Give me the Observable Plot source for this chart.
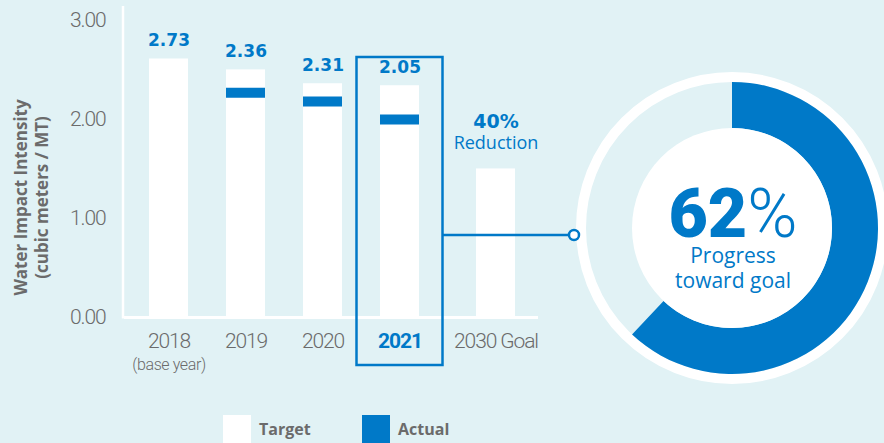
<!DOCTYPE html>
<html><head><meta charset="utf-8">
<script src="https://cdn.jsdelivr.net/npm/d3@7"></script>
<script src="https://cdn.jsdelivr.net/npm/@observablehq/plot@0.6"></script>
<style>
html,body{margin:0;padding:0;background:#e1f2f5;overflow:hidden}
#chart{position:relative;width:884px;height:443px}
#legend{position:relative;height:28px;margin-top:10px;font-family:"Open Sans",sans-serif;font-weight:700;font-size:16px;color:#6b6b6b}
.item{position:absolute;top:0;display:flex;align-items:center;height:28px}
.sw{width:28px;height:28px;margin-right:8px}
</style></head><body><div id="chart"></div><script>
// ---- data ----
const categories = ["2018", "2019", "2020", "2021", "2030 Goal"];
const targetValues = [2.61, 2.50, 2.36, 2.34, 1.50];
const actualCategories = ["2019", "2020", "2021"];
const actualValues = [2.27, 2.18, 2.00];
const valueLabelCategories = ["2018", "2019", "2020", "2021"];
const valueLabels = ["2.73", "2.36", "2.31", "2.05"];
const yTicks = [0, 1, 2, 3];
const highlightCategory = "2021";
const baseYearCategory = "2018";
const baseYearNote = "(base year)";
const goalCategory = "2030 Goal";
const goalLabels = ["40%", "Reduction"];
const progressPercent = 62;
const progressCaption = ["Progress", "toward goal"];
const yTitle = ["Water Impact Intensity", "(cubic meters / MT)"];
const legendLabels = ["Target", "Actual"];

// ---- style ----
const BLUE = "#0079c8";
const GRAY = "#6b6b6b";
const NARROW = "Roboto, sans-serif";
const HUM = "'Open Sans', sans-serif";
const WIDE = "'DejaVu Sans', sans-serif";
const GOAL_SHIFT = 19; // extra gap before the goal column

const targets = categories.map((c, i) => ({cat: c, value: targetValues[i]}));
const actuals = actualCategories.map((c, i) => ({cat: c, value: actualValues[i]}));
const valueLabelData = valueLabelCategories.map((c, i) => ({cat: c, value: targetValues[categories.indexOf(c)], label: valueLabels[i]}));
const goalValue = targetValues[categories.indexOf(goalCategory)];

const plot = Plot.plot({
  width: 884, height: 405,
  marginLeft: 124, marginRight: 346, marginTop: 6, marginBottom: 88,
  style: {background: "transparent", fontFamily: HUM, fontSize: "16px", color: GRAY, overflow: "visible"},
  x: {type: "band", domain: categories, range: [124, 521], paddingInner: 0.5, paddingOuter: 0.3, axis: null},
  y: {domain: [0, 3.14], axis: null},
  marks: [
    Plot.barY(targets.filter(d => d.cat !== goalCategory), {x: "cat", y: "value", fill: "white"}),
    Plot.barY(targets.filter(d => d.cat === goalCategory), {x: "cat", y: "value", fill: "white", dx: GOAL_SHIFT}),
    Plot.tickY(actuals, {x: "cat", y: "value", stroke: BLUE, strokeWidth: 10}),
    Plot.ruleY([0], {stroke: "white", strokeWidth: 3}),
    Plot.text(yTicks, {y: d => d, text: d => d3.format(".2f")(d), frameAnchor: "left", dx: -19, textAnchor: "end", lineAnchor: "middle", fontSize: 21, fontWeight: 300, fontFamily: NARROW, fill: GRAY}),
    Plot.text(valueLabelData, {x: "cat", y: "value", text: "label", dy: -13, lineAnchor: "bottom", fontSize: 17, fontWeight: "bold", fontFamily: WIDE, fill: BLUE}),
    Plot.text(categories.filter(c => c !== highlightCategory && c !== goalCategory), {x: d => d, text: d => d, frameAnchor: "bottom", dy: 30, lineAnchor: "bottom", fontSize: 21, fontWeight: 300, fontFamily: NARROW, fill: GRAY}),
    Plot.text([goalCategory], {x: d => d, text: d => d, frameAnchor: "bottom", dx: GOAL_SHIFT, dy: 30, lineAnchor: "bottom", fontSize: 21, fontWeight: 300, fontFamily: NARROW, fill: GRAY}),
    Plot.text([highlightCategory], {x: d => d, text: d => d, frameAnchor: "bottom", dy: 30, lineAnchor: "bottom", fontSize: 21, fontWeight: "bold", fontFamily: NARROW, fill: BLUE}),
    Plot.text([baseYearCategory], {x: d => d, text: () => baseYearNote, frameAnchor: "bottom", dy: 52, lineAnchor: "bottom", fontSize: 16, fontWeight: 300, fontFamily: NARROW, fill: GRAY}),
    Plot.text([goalCategory], {x: d => d, y: () => goalValue, text: () => goalLabels[0], dx: GOAL_SHIFT, dy: -41, lineAnchor: "bottom", fontSize: 19, fontWeight: "bold", fontFamily: WIDE, fill: BLUE}),
    Plot.text([goalCategory], {x: d => d, y: () => goalValue, text: () => goalLabels[1], dx: GOAL_SHIFT, dy: -20, lineAnchor: "bottom", fontSize: 18, fontFamily: HUM, fill: BLUE}),
    Plot.text([yTitle.join("\n")], {frameAnchor: "left", rotate: -90, dx: -93.5, dy: 35.5, textAnchor: "middle", lineAnchor: "middle", lineHeight: 1.25, fontSize: 17, fontWeight: "bold", fontFamily: HUM, fill: GRAY})
  ]
});

const svg = d3.select(plot);
// condensed look for the DIN-like labels
svg.selectAll("g").filter(function() { return this.getAttribute("font-family") === NARROW; })
  .style("letter-spacing", "-1.1px");
svg.selectAll("text").filter(function() { return this.textContent === baseYearNote; })
  .style("letter-spacing", "-0.4px");

const xs = plot.scale("x"), ys = plot.scale("y");
const x0 = 124;
// y axis line
svg.append("line").attr("x1", x0 - 1).attr("x2", x0 - 1).attr("y1", ys.apply(3.14)).attr("y2", ys.apply(0) + 1.5)
  .attr("stroke", "white").attr("stroke-width", 2.5);

// donut
const cx = 732, cy = 228, rIn = 100, rOut = 146, ringR = 151;
const g = svg.append("g").attr("transform", `translate(${cx},${cy})`);
g.append("circle").attr("r", ringR).attr("fill", "none").attr("stroke", "white").attr("stroke-width", 10);
g.append("path").attr("d", d3.arc()({innerRadius: rIn, outerRadius: rOut, startAngle: 0, endAngle: 2 * Math.PI * progressPercent / 100})).attr("fill", BLUE);
g.append("circle").attr("r", rIn).attr("fill", "white");
const big = g.append("text").attr("x", 1).attr("y", 9).attr("text-anchor", "middle").attr("fill", BLUE)
  .attr("font-family", "Roboto, sans-serif").attr("font-size", 68);
big.append("tspan").attr("font-weight", 900).text(String(progressPercent));
big.append("tspan").attr("font-weight", 300).text("%");
progressCaption.forEach((t, i) => {
  g.append("text").attr("x", 1).attr("y", 35 + i * 25).attr("text-anchor", "middle").attr("fill", BLUE)
    .attr("font-family", HUM).attr("font-size", 21).text(t);
});

// highlight box + connector
const bx = xs.apply(highlightCategory), bw = xs.bandwidth, pad = 23.5;
svg.append("rect").attr("x", bx - pad).attr("y", 57).attr("width", bw + 2 * pad).attr("height", 308)
  .attr("fill", "none").attr("stroke", BLUE).attr("stroke-width", 2.5);
const connY = 235, dotX = cx - ringR - 7;
svg.append("line").attr("x1", bx + bw + pad).attr("x2", dotX).attr("y1", connY).attr("y2", connY)
  .attr("stroke", BLUE).attr("stroke-width", 2.5);
svg.append("circle").attr("cx", dotX).attr("cy", connY).attr("r", 5).attr("fill", "white").attr("stroke", BLUE).attr("stroke-width", 2.5);

const chart = document.getElementById("chart");
chart.appendChild(plot);

// legend
const legend = document.createElement("div");
legend.id = "legend";
const legendColors = ["white", BLUE];
const legendLeft = [223, 362];
legendLabels.forEach((t, i) => {
  const it = document.createElement("div");
  it.className = "item";
  it.style.left = legendLeft[i] + "px";
  const sw = document.createElement("div");
  sw.className = "sw";
  sw.style.background = legendColors[i];
  const lb = document.createElement("span");
  lb.textContent = t;
  it.appendChild(sw); it.appendChild(lb);
  legend.appendChild(it);
});
chart.appendChild(legend);
</script></body></html>
